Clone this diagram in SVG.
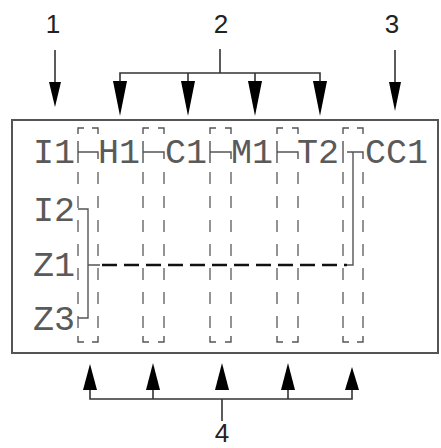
<svg xmlns="http://www.w3.org/2000/svg" width="441" height="448" viewBox="0 0 441 448">
  <style>
    .lbl { font-family: "Liberation Mono", "Courier New", monospace; font-size: 35px; fill: #5a5a5a; }
    .num { font-family: "Liberation Sans", Arial, sans-serif; font-size: 26px; fill: #222; text-anchor: middle; }
    .ln { fill: none; stroke: #333; stroke-width: 1.6; }
    .wire { fill: none; stroke: #555; stroke-width: 1.4; }
    .dash { fill: none; stroke: #666; stroke-width: 1.4; stroke-dasharray: 12 12; }
    .bus { fill: none; stroke: #111; stroke-width: 2.6; stroke-dasharray: 15 7; }
    .box { fill: #fff; stroke: #555; stroke-width: 2; }
    .head { fill: #000; }
  </style>

  <!-- panel frame -->
  <rect class="box" x="12" y="120" width="426" height="233"/>

  <!-- callout labels -->
  <g id="callout-1">
    <text class="num" x="53" y="33">1</text>
    <line class="ln" x1="55" y1="50" x2="55" y2="84"/>
    <polygon class="head" points="49,82 61,82 55,107"/>
  </g>
  <g id="callout-2">
    <text class="num" x="221" y="33">2</text>
    <path class="ln" d="M220,49 V73 M120,82 V73 H320 V82 M188,73 V82 M255,73 V82"/>
    <polygon class="head" points="113,81 127,81 120,116"/>
    <polygon class="head" points="181,81 195,81 188,116"/>
    <polygon class="head" points="248,81 262,81 255,116"/>
    <polygon class="head" points="313,81 327,81 320,116"/>
  </g>
  <g id="callout-3">
    <text class="num" x="392" y="33">3</text>
    <line class="ln" x1="395" y1="50" x2="395" y2="84"/>
    <polygon class="head" points="389,82 401,82 395,111"/>
  </g>
  <g id="callout-4">
    <text class="num" x="222" y="442">4</text>
    <path class="ln" d="M222,421 V399 M90,388 V399 H352 V388 M153,388 V399 M288,388 V399"/>
    <polygon class="head" points="83,390 97,390 90,364"/>
    <polygon class="head" points="146,390 160,390 153,363"/>
    <polygon class="head" points="215,390 229,390 222,363"/>
    <polygon class="head" points="281,390 295,390 288,363"/>
    <polygon class="head" points="345,390 359,390 352,367"/>
  </g>

  <!-- signal names -->
  <g id="node-I1"><text class="lbl" x="33" y="163">I1</text></g>
  <g id="node-H1"><text class="lbl" x="98" y="163">H1</text></g>
  <g id="node-C1"><text class="lbl" x="165" y="163">C1</text></g>
  <g id="node-M1"><text class="lbl" x="231" y="163">M1</text></g>
  <g id="node-T2"><text class="lbl" x="297" y="163">T2</text></g>
  <g id="node-CC1"><text class="lbl" x="365" y="163">CC1</text></g>
  <g id="node-I2"><text class="lbl" x="33" y="221">I2</text></g>
  <g id="node-Z1"><text class="lbl" x="33" y="276">Z1</text></g>
  <g id="node-Z3"><text class="lbl" x="33" y="330">Z3</text></g>

  <!-- dashed column brackets -->
  <g id="columns">
    <g id="col-1">
      <path class="wire" d="M84,128 H78 V134 M92,128 H98 V134 M78,336 V342 H84 M98,336 V342 H92"/>
      <path class="dash" d="M78,172 V336 M98,172 V336"/>
    </g>
    <g id="col-2">
      <path class="wire" d="M149,128 H143 V134 M158,128 H164 V134 M143,336 V342 H149 M164,336 V342 H158"/>
      <path class="dash" d="M143,172 V336 M164,172 V336"/>
    </g>
    <g id="col-3">
      <path class="wire" d="M216,128 H210 V134 M225,128 H231 V134 M210,336 V342 H216 M231,336 V342 H225"/>
      <path class="dash" d="M210,172 V336 M231,172 V336"/>
    </g>
    <g id="col-4">
      <path class="wire" d="M283,128 H277 V134 M292,128 H298 V134 M277,336 V342 H283 M298,336 V342 H292"/>
      <path class="dash" d="M277,172 V336 M298,172 V336"/>
    </g>
    <g id="col-5">
      <path class="wire" d="M349,128 H343 V134 M357,128 H363 V134 M343,336 V342 H349 M363,336 V342 H357"/>
      <path class="dash" d="M343,172 V336 M363,172 V336"/>
    </g>
  </g>

  <!-- links -->
  <g id="connectors">
    <path class="wire" d="M78,141 V163 M78,152 H98 V159"/>
    <path class="wire" d="M143,141 V163 M143,152 H164 V159"/>
    <path class="wire" d="M210,141 V163 M210,152 H231 V159"/>
    <path class="wire" d="M277,141 V163 M277,152 H298 V159"/>
    <path class="wire" d="M343,141 V163 M347,152 H363 V159 M353,152 V265 H347"/>
    <path class="wire" d="M78,209 H88 V318 H78 M88,265 H100"/>
    <path class="bus" d="M102,265 H347"/>
  </g>
</svg>
